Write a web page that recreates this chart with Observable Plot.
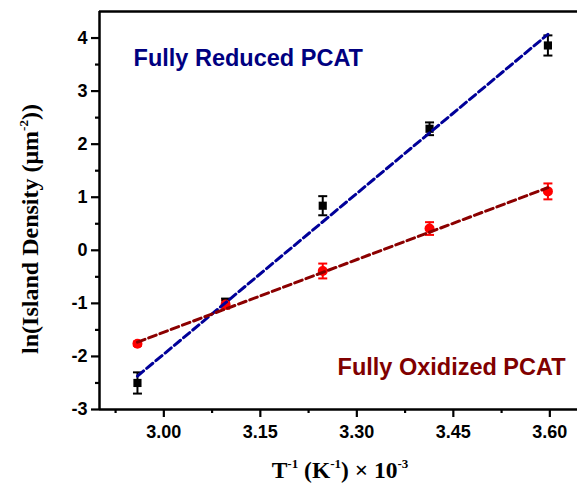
<!DOCTYPE html>
<html>
<head>
<meta charset="utf-8">
<script src="https://cdn.jsdelivr.net/npm/d3@7"></script>
<script src="https://cdn.jsdelivr.net/npm/@observablehq/plot@0.6"></script>
<style>
  html, body { margin: 0; padding: 0; background: #fff; }
  #chart svg { display: block; }
</style>
</head>
<body>
<div id="chart"></div>
<script>
// ---- data ----
const invT = [2.959, 3.096, 3.247, 3.413, 3.597];          // T^-1 (K^-1) x 10^-3
const reducedY = [-2.50, -0.98, 0.84, 2.29, 3.86];
const reducedErr = [0.20, 0.07, 0.18, 0.12, 0.19];
const oxidizedY = [-1.76, -1.02, -0.39, 0.41, 1.11];
const oxidizedErr = [0.04, 0.08, 0.14, 0.12, 0.15];
// fitted lines (end points)
const reducedFitX = [2.959, 3.597];
const reducedFitY = [-2.37, 4.07];
const oxidizedFitX = [2.959, 3.597];
const oxidizedFitY = [-1.73, 1.18];
// axes
const xDomain = [2.9, 3.643];
const yDomain = [-3, 4.5];
const xTicks = [3.00, 3.15, 3.30, 3.45, 3.60];
const xTickLabels = ["3.00", "3.15", "3.30", "3.45", "3.60"];
const xMinorTicks = [2.925, 3.075, 3.225, 3.375, 3.525];
const yTicks = [-3, -2, -1, 0, 1, 2, 3, 4];
const yTickLabels = ["-3", "-2", "-1", "0", "1", "2", "3", "4"];
const yMinorTicks = [-2.5, -1.5, -0.5, 0.5, 1.5, 2.5, 3.5];
// labels
const labelText = ["Fully Reduced PCAT", "Fully Oxidized PCAT"];
const labelX = [2.953, 3.27];
const labelY = [3.61, -2.2];

const reduced = invT.map((x, i) => ({x, y: reducedY[i], lo: reducedY[i] - reducedErr[i], hi: reducedY[i] + reducedErr[i]}));
const oxidized = invT.map((x, i) => ({x, y: oxidizedY[i], lo: oxidizedY[i] - oxidizedErr[i], hi: oxidizedY[i] + oxidizedErr[i]}));
const redFit = reducedFitX.map((x, i) => ({x, y: reducedFitY[i]}));
const oxFit = oxidizedFitX.map((x, i) => ({x, y: oxidizedFitY[i]}));
const labels = labelText.map((t, i) => ({t, x: labelX[i], y: labelY[i]}));
const xTickData = xTicks.map((v, i) => ({v, t: xTickLabels[i]}));
const yTickData = yTicks.map((v, i) => ({v, t: yTickLabels[i]}));

const cap = {draw(ctx) { ctx.moveTo(-4.5, 0); ctx.lineTo(4.5, 0); }};

function errorMarks(data, color) {
  return [
    Plot.ruleX(data, {x: "x", y1: "lo", y2: "hi", stroke: color, strokeWidth: 2}),
    Plot.dot(data, {x: "x", y: "lo", symbol: cap, r: 4.5, stroke: color, strokeWidth: 2, fill: "none"}),
    Plot.dot(data, {x: "x", y: "hi", symbol: cap, r: 4.5, stroke: color, strokeWidth: 2, fill: "none"})
  ];
}

const sans = "'Liberation Sans', Arial, sans-serif";

const plot = Plot.plot({
  width: 577,
  height: 483,
  marginLeft: 99,
  marginRight: 0,
  marginTop: 11,
  marginBottom: 74,
  style: {fontFamily: sans, color: "#000", background: "transparent", overflow: "visible"},
  x: {domain: xDomain, axis: null},
  y: {domain: yDomain, axis: null},
  marks: [
    // error bars
    ...errorMarks(reduced, "#000"),
    ...errorMarks(oxidized, "#ff0000"),
    // markers
    Plot.dot(reduced, {x: "x", y: "y", symbol: "square", r: 4.6, fill: "#000", stroke: "none"}),
    Plot.dot(oxidized, {x: "x", y: "y", symbol: "circle", r: 5, fill: "#ff0000", stroke: "none"}),
    // fits
    Plot.line(redFit, {x: "x", y: "y", stroke: "#000099", strokeWidth: 3, strokeDasharray: "8,4"}),
    Plot.line(oxFit, {x: "x", y: "y", stroke: "#8b0000", strokeWidth: 3, strokeDasharray: "8,4"}),
    // labels
    Plot.text(labels, {x: "x", y: "y", text: "t", textAnchor: "start", fontSize: 23.5, fontWeight: "bold",
      fontFamily: sans, fill: (d, i) => i === 0 ? "#000080" : "#800000"}),
    // axis ticks
    Plot.axisY({ticks: yTicks, tickSize: 8, text: null, strokeWidth: 2.2, label: null}),
    Plot.axisY({ticks: yMinorTicks, tickSize: 4, text: null, strokeWidth: 2.2, label: null}),
    Plot.axisX({ticks: xTicks, tickSize: 8, text: null, strokeWidth: 2.2, label: null}),
    Plot.axisX({ticks: xMinorTicks, tickSize: 4, text: null, strokeWidth: 2.2, label: null}),
    // tick labels
    Plot.text(yTickData, {y: "v", text: "t", frameAnchor: "left", dx: -12, textAnchor: "end",
      fontSize: 18, fontWeight: "bold", fontFamily: sans, fill: "#000"}),
    Plot.text(xTickData, {x: "v", text: "t", frameAnchor: "bottom", dy: 23, lineAnchor: "middle",
      fontSize: 18, fontWeight: "bold", fontFamily: sans, fill: "#000"}),
    // frame lines
    Plot.ruleX([xDomain[0]], {stroke: "#000", strokeWidth: 2.5}),
    Plot.ruleY([yDomain[0]], {stroke: "#000", strokeWidth: 2.5}),
    Plot.ruleY([yDomain[1]], {stroke: "#000", strokeWidth: 2.5})
  ]
});

// axis titles with superscripts
const svg = d3.select(plot);
const serif = "'Liberation Serif', 'Times New Roman', serif";
const xt = svg.append("text")
  .attr("x", 340).attr("y", 478)
  .attr("text-anchor", "middle")
  .attr("font-family", serif).attr("font-size", 23.5).attr("font-weight", "bold").attr("fill", "#000");
xt.append("tspan").text("T");
xt.append("tspan").attr("font-size", 13).attr("dy", -10).text("-1");
xt.append("tspan").attr("dy", 10).text(" (K");
xt.append("tspan").attr("font-size", 13).attr("dy", -10).text("-1");
xt.append("tspan").attr("dy", 10).text(") \u00d7 10");
xt.append("tspan").attr("font-size", 13).attr("dy", -10).text("-3");

const yt = svg.append("text")
  .attr("transform", "translate(38,229) rotate(-90)")
  .attr("text-anchor", "middle")
  .attr("font-family", serif).attr("font-size", 24).attr("font-weight", "bold").attr("fill", "#000");
yt.append("tspan").text("ln(Island Density (\u03bcm");
yt.append("tspan").attr("font-size", 13).attr("dy", -10).text("-2");
yt.append("tspan").attr("dy", 10).text("))");

document.getElementById("chart").appendChild(plot);
</script>
</body>
</html>
